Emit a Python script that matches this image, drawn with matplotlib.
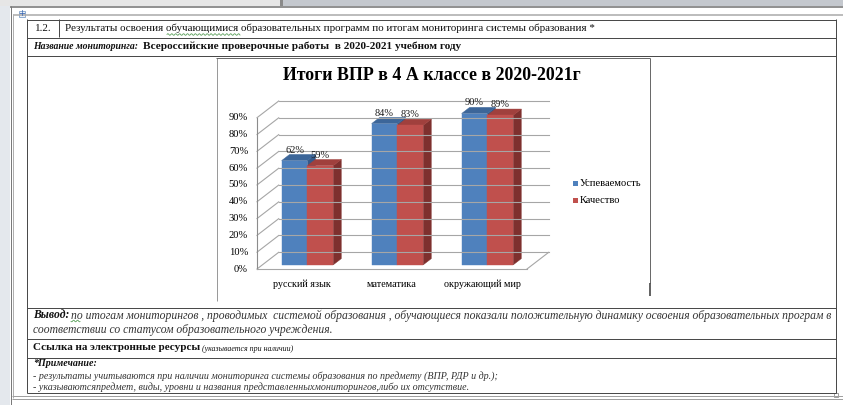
import matplotlib
matplotlib.use('Agg')
import matplotlib.pyplot as plt
from matplotlib.patches import Polygon, Rectangle
import numpy as np

# ---------------- data ----------------
categories = ['русский язык', 'математика', 'окружающий мир']
uspevaemost = [62, 84, 90]
kachestvo = [59, 83, 89]
series_names = ['Успеваемость', 'Качество']
y_ticks = [0, 10, 20, 30, 40, 50, 60, 70, 80, 90]
y_tick_labels = ['0%', '10%', '20%', '30%', '40%', '50%', '60%', '70%', '80%', '90%']
chart_title = 'Итоги ВПР в 4 А классе в 2020-2021г'

row1_num = '1.2.'
row1_text = 'Результаты освоения обучающимися образовательных программ по итогам мониторинга системы образования *'
row2_label = 'Название мониторинга:'
row2_text = 'Всероссийские проверочные работы  в 2020-2021 учебном году'
vyvod_label = 'Вывод:'
vyvod_line1 = 'по итогам мониторингов , проводимых  системой образования , обучающиеся показали положительную динамику освоения образовательных програм в'
vyvod_line2 = 'соответствии со статусом образовательного учреждения.'
link_text = 'Ссылка на электронные ресурсы'
link_note = '(указывается при наличии)'
prim_label = '*Примечание:'
prim_line1 = '- результаты учитываются при наличии мониторинга системы образования по предмету (ВПР, РДР и др.);'
prim_line2 = '- указываютсяпредмет, виды, уровни и названия представленныхмониторингов,либо их отсутствие.'

# ---------------- figure ----------------
W, H = 843, 405
fig = plt.figure(figsize=(W / 100, H / 100), dpi=100)
fig.patch.set_facecolor('white')
doc = fig.add_axes([0, 0, 1, 1])
doc.set_xlim(0, W)
doc.set_ylim(H, 0)
doc.axis('off')
renderer = fig.canvas.get_renderer()
SERIF = 'Liberation Serif'
PX = 0.72  # one pixel in points


def fit(x0, x1, y, s, size=9, color='#111111', **kw):
    t = doc.text(x0, y, s, fontsize=size, ha='left', va='center',
                 family=SERIF, color=color, **kw)
    bb = t.get_window_extent(renderer=renderer)
    t.set_fontsize(size * (x1 - x0) / bb.width)
    return t


def put(x0, y, s, size, color='#111111', **kw):
    return doc.text(x0, y, s, fontsize=size, ha='left', va='center',
                    family=SERIF, color=color, **kw)


def hline(y, x0, x1, color='#4a4a4a', lw=1.0):
    doc.plot([x0, x1], [y, y], color=color, lw=lw * PX, solid_capstyle='butt')


def vline(x, y0, y1, color='#4a4a4a', lw=1.0):
    doc.plot([x, x], [y0, y1], color=color, lw=lw * PX, solid_capstyle='butt')


def wavy(x0, x1, y):
    xs = np.linspace(x0, x1, int((x1 - x0) * 2))
    doc.plot(xs, y + 0.8 * np.sin(xs * 1.6), color='#5aa05a', lw=0.6)


# window / page surroundings
doc.add_patch(Rectangle((0, 0), 280, 6, color='#E6E6E6', lw=0))
doc.add_patch(Rectangle((280, 0), 3, 6, color='#8A8A8A', lw=0))
doc.add_patch(Rectangle((283, 0), W - 283, 6, color='#C4C8CE', lw=0))
doc.add_patch(Rectangle((0, 6), 10, H - 6, color='#E4E8ED', lw=0))
hline(6.5, 10, W, '#6E6E6E', 1.5)
vline(10.5, 6, H, '#7A7A7A', 1.0)
hline(14.5, 13, W, '#A8A8A8', 1.5)
vline(12.5, 14, 398, '#B0B0B0', 1.0)
hline(395.5, 12, W, '#A0A0A0', 1.0)
hline(398.5, 12, W, '#A0A0A0', 1.0)
doc.add_patch(Rectangle((19, 11), 6, 6, facecolor='#EEF3FA', edgecolor='#7FA0C8', lw=0.6))
doc.text(22, 14, '+', fontsize=6, color='#3060B0', ha='center', va='center')
doc.add_patch(Rectangle((834, 393), 4, 4, facecolor='white', edgecolor='#909090', lw=0.6))

# table grid
TL, TR = 26.5, 835.5
rows = [19, 37, 55, 307, 338, 357, 392]
for y in rows:
    hline(y + 0.5, TL, TR)
vline(TL, rows[0], rows[-1] + 1)
vline(TR, rows[0], rows[-1] + 1)
vline(58.5, rows[0], rows[1])

# table texts
t1 = fit(65, 594, 28.5, row1_text, 9)
put(35, 28.5, row1_num, t1.get_fontsize())
wavy(167, 240, 34.5)
fit(33, 138, 46.5, row2_label, 7, fontstyle='italic', fontweight='bold')
fit(143, 460, 46.5, row2_text, 9, fontweight='bold')
tv = fit(71, 830, 315.5, vyvod_line1, 8.5, fontstyle='italic', color='#333333')
put(33, 315.5, vyvod_label, tv.get_fontsize(), fontstyle='italic', fontweight='bold')
wavy(71, 80, 321)
put(33, 330, vyvod_line2, tv.get_fontsize(), fontstyle='italic', color='#333333')
fit(33, 201, 348, link_text, 9, fontweight='bold')
fit(202, 293, 349, link_note, 6, fontstyle='italic')
fit(33, 97, 363.5, prim_label, 8, fontstyle='italic', fontweight='bold')
tp = fit(33, 500, 376, prim_line1, 7.5, fontstyle='italic', color='#333333')
put(33, 387.5, prim_line2, tp.get_fontsize(), fontstyle='italic', color='#333333')

# chart frame
vline(216.5, 58, 301, '#9A9A9A', 1.0)
hline(58, 216, 650, '#6A6A6A', 1.0)
vline(649.5, 58, 283, '#6A6A6A', 1.0)
vline(649.5, 283, 296, '#404040', 1.6)

# chart title
fit(283, 583, 76, chart_title, 14, fontweight='bold', color='#000000')

# ---------------- 3D chart axes ----------------
FX0, FY0 = 257.0, 269.0     # pixel position of (x=0, y=0) front plane
PXC, PXV = 90.0, 1.681       # px per category, px per percent
xlim = (-0.6, 3.7)
ylim = (-14.0, 106.0)
left_px = FX0 + xlim[0] * PXC
right_px = FX0 + xlim[1] * PXC
top_px = FY0 - ylim[1] * PXV
bot_px = FY0 - ylim[0] * PXV
ax = fig.add_axes([left_px / W, 1 - bot_px / H, (right_px - left_px) / W, (bot_px - top_px) / H])
ax.set_xlim(*xlim)
ax.set_ylim(*ylim)
ax.axis('off')

DX = 21.7 / PXC
DY = 16.7 / PXV


def P(x, y, d):
    return (x + d * DX, y + d * DY)


ncat = len(categories)
grid_c = '#A6A6A6'
for v, lab in zip(y_ticks, y_tick_labels):
    a, b = P(0, v, 1), P(ncat, v, 1)
    ax.plot([a[0], b[0]], [a[1], b[1]], color=grid_c, lw=0.8, clip_on=False)
    a, b = P(0, v, 0), P(0, v, 1)
    ax.plot([a[0], b[0]], [a[1], b[1]], color=grid_c, lw=0.8, clip_on=False)
    ax.text(-0.1, v, lab, ha='right', va='center', fontsize=7.6, family=SERIF, color='#000000')
# front axis line and floor
a, b = P(0, 0, 0), P(0, y_ticks[-1], 0)
ax.plot([a[0], b[0]], [a[1], b[1]], color='#8C8C8C', lw=0.8)
a, b = P(0, 0, 0), P(ncat, 0, 0)
ax.plot([a[0], b[0]], [a[1], b[1]], color=grid_c, lw=0.8)
a, b = P(ncat, 0, 0), P(ncat, 0, 1)
ax.plot([a[0], b[0]], [a[1], b[1]], color=grid_c, lw=0.8)

# bars
D0, D1 = 0.25, 0.62
BW = 0.287
colors = [('#4F81BD', '#3C6699', '#34598A'), ('#C0504D', '#A0403D', '#7E302E')]
series = [uspevaemost, kachestvo]
for i in range(ncat):
    for s, vals in enumerate(series):
        v = vals[i]
        xl = i + 0.5 - BW + s * BW
        xr = xl + BW
        front, top, side = colors[s]
        ax.add_patch(Polygon([P(xr, 0, D0), P(xr, 0, D1), P(xr, v, D1), P(xr, v, D0)],
                             closed=True, facecolor=side, edgecolor=side, lw=0.3))
        ax.add_patch(Polygon([P(xl, v, D0), P(xr, v, D0), P(xr, v, D1), P(xl, v, D1)],
                             closed=True, facecolor=top, edgecolor=top, lw=0.3))
        ax.add_patch(Polygon([P(xl, 0, D0), P(xr, 0, D0), P(xr, v, D0), P(xl, v, D0)],
                             closed=True, facecolor=front, edgecolor=front, lw=0.3))
        cx, cy = P((xl + xr) / 2, v, D0)
        ax.text(cx, cy + 6.3, f'{v}%', ha='center', va='center', fontsize=7.5,
                family=SERIF, color='#1a1a1a')

# category labels
for i, c in enumerate(categories):
    ax.text(i + 0.5, -9.0, c, ha='center', va='center', fontsize=7.3, family=SERIF, color='#000000')

# legend
for k, name in enumerate(series_names):
    yy = 183 + k * 17.5
    doc.add_patch(Rectangle((573, yy - 2.5), 5, 5, color=colors[k][0], lw=0))
    doc.text(580, yy, name, ha='left', va='center', fontsize=7.6, family=SERIF, color='#000000')

fig.savefig('out.png', dpi=100, facecolor='white')
